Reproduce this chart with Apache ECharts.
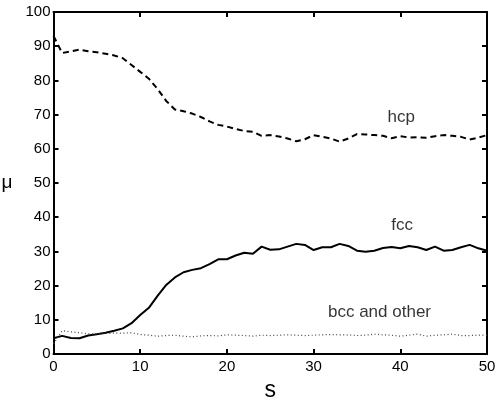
<!DOCTYPE html>
<html>
<head>
<meta charset="utf-8">
<script src="https://cdn.jsdelivr.net/npm/echarts@6/dist/echarts.min.js"></script>
<style>
html,body{margin:0;padding:0;background:#fff;}
#chart{width:500px;height:398px;}
</style>
</head>
<body>
<div id="chart"></div>
<script>
var sValues = [];
for (var i = 0; i <= 50; i++) sValues.push(i);

var hcp = [93, 88, 88.5, 89, 88.5, 88.2, 87.8, 87.3, 86.5, 84.5,
  82.5, 80.5, 77.5, 74, 71.5, 71, 70.3, 69.3, 68, 67,
  66.5, 65.8, 65.2, 65, 63.8, 64, 63.6, 63, 62.2, 62.8,
  64, 63.5, 63, 62.1, 63, 64.3, 64.2, 64, 63.8, 63.1,
  63.7, 63.3, 63.4, 63.2, 63.7, 64, 63.8, 63.5, 62.7, 63.3, 64];

var fcc = [4.6, 5.3, 4.7, 4.6, 5.4, 5.8, 6.2, 6.8, 7.5, 9,
  11.4, 13.5, 17, 20.2, 22.4, 23.9, 24.6, 25.1, 26.3, 27.7,
  27.7, 28.8, 29.6, 29.3, 31.4, 30.5, 30.6, 31.4, 32.2, 31.9,
  30.4, 31.2, 31.2, 32.2, 31.6, 30.2, 29.9, 30.2, 31, 31.3,
  30.9, 31.6, 31.2, 30.4, 31.4, 30.2, 30.4, 31.2, 31.9, 30.9, 30.2];

var bcc = [3, 6.8, 6.5, 6.2, 5.9, 5.9, 6, 6.1, 6.1, 6.2,
  5.7, 5.5, 5.2, 5.4, 5.5, 5.2, 5, 5.3, 5.4, 5.3,
  5.6, 5.5, 5.4, 5.2, 5.5, 5.4, 5.5, 5.6, 5.5, 5.4,
  5.5, 5.6, 5.7, 5.6, 5.6, 5.4, 5.5, 5.8, 5.6, 5.5,
  5.2, 5.5, 5.8, 5.2, 5.5, 5.6, 5.8, 5.4, 5.4, 5.5, 5.5];

var labelNames = ['hcp', 'fcc', 'bcc and other'];
var labelS = [40.1, 40.2, 37.6];
var labelMu = [69.3, 37.7, 12.3];

var xTicks = [0, 10, 20, 30, 40, 50];
var yTicks = [0, 10, 20, 30, 40, 50, 60, 70, 80, 90, 100];

function pairs(ys) { return sValues.map(function (s, i) { return [s, ys[i]]; }); }

var font = "'Liberation Sans', Arial, Helvetica, sans-serif";
var chart = echarts.init(document.getElementById('chart'), null, {renderer: 'canvas'});

function axisBase(extra) {
  var a = {
    type: 'value',
    axisLine: {show: true, onZero: false, lineStyle: {color: '#000', width: 2}},
    axisTick: {show: true, inside: true, length: 5, lineStyle: {color: '#000', width: 2}},
    splitLine: {show: false},
    axisLabel: {show: true, color: '#000', fontSize: 15, fontFamily: font}
  };
  for (var k in extra) a[k] = extra[k];
  return a;
}

var option = {
  animation: false,
  backgroundColor: '#fff',
  grid: {left: 53.5, right: 13, top: 12, bottom: 44, containLabel: false, outerBoundsMode: 'none'},
  xAxis: [
    axisBase({min: xTicks[0], max: xTicks[xTicks.length - 1], interval: 10, position: 'bottom',
      name: 's', nameLocation: 'middle', nameGap: 21,
      nameTextStyle: {fontSize: 23, fontFamily: font, color: '#000'},
      axisLabel: {show: true, color: '#000', fontSize: 15, fontFamily: font, margin: 5}}),
    axisBase({min: xTicks[0], max: xTicks[xTicks.length - 1], interval: 10, position: 'top',
      axisLabel: {show: false}})
  ],
  yAxis: [
    axisBase({min: yTicks[0], max: yTicks[yTicks.length - 1], interval: 10, position: 'left',
      name: 'μ', nameLocation: 'middle', nameGap: 41, nameRotate: 0,
      nameTextStyle: {fontSize: 19, fontFamily: font, color: '#000'},
      axisLabel: {show: true, color: '#000', fontSize: 15, fontFamily: font, margin: 3}}),
    axisBase({min: yTicks[0], max: yTicks[yTicks.length - 1], interval: 10, position: 'right',
      axisLabel: {show: false}})
  ],
  series: [
    {type: 'line', name: 'hcp', data: pairs(hcp), showSymbol: false, symbol: 'none',
      lineStyle: {color: '#000', width: 2, type: [6, 4]}},
    {type: 'line', name: 'fcc', data: pairs(fcc), showSymbol: false, symbol: 'none',
      lineStyle: {color: '#000', width: 2}},
    {type: 'line', name: 'bcc', data: pairs(bcc), showSymbol: false, symbol: 'none',
      lineStyle: {color: '#444', width: 1.2, type: [1, 2.5]}},
    {type: 'scatter', symbolSize: 0, silent: true,
      data: labelNames.map(function (n, i) { return {value: [labelS[i], labelMu[i]], name: n}; }),
      label: {show: true, position: 'inside', formatter: '{b}', color: '#000', fontSize: 17, fontFamily: font}}
  ]
};
chart.setOption(option);
</script>
</body>
</html>
